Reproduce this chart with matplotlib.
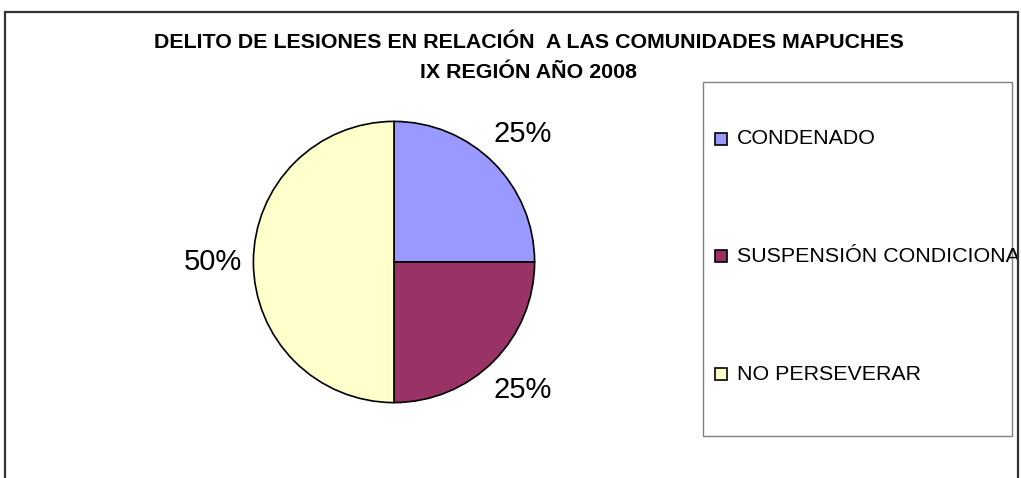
import matplotlib.pyplot as plt
from matplotlib.patches import Rectangle
from matplotlib.transforms import Bbox

# data
categorias = ["CONDENADO", "SUSPENSIÓN CONDICIONAL", "NO PERSEVERAR"]
valores = [25, 25, 50]
colores = ["#9999FF", "#993366", "#FFFFCC"]
titulo = ["DELITO DE LESIONES EN RELACIÓN  A LAS COMUNIDADES MAPUCHES",
          "IX REGIÓN AÑO 2008"]

W, H = 1021, 478
plt.rcParams['font.family'] = ['Liberation Sans', 'DejaVu Sans']

fig = plt.figure(figsize=(W / 100, H / 100), dpi=100)

def px(x0, y0, x1, y1):
    # pixel box (top-left origin) -> figure fraction
    return [x0 / W, 1 - y1 / H, (x1 - x0) / W, (y1 - y0) / H]

# outer chart border (bottom edge falls outside the image)
fig.patches.append(Rectangle((5 / W, -0.05), 1013 / W, 1 - 12 / H + 0.05,
                             transform=fig.transFigure, fill=False,
                             edgecolor="#333333", linewidth=1.6))

for linea, y in zip(titulo, [42, 72]):
    fig.text(529 / W, 1 - y / H, linea, ha="center", va="center",
             fontsize=15.4, fontweight="bold")

ax = fig.add_axes(px(252, 120, 536, 404))
wedges, _, autotexts = ax.pie(valores, colors=colores, startangle=90,
                              counterclock=False, radius=1,
                              autopct="%1.0f%%", pctdistance=1.29,
                              wedgeprops=dict(edgecolor="black", linewidth=1.2))
for t in autotexts:
    t.set_fontsize(21)
ax.set_xlim(-1.01, 1.01)
ax.set_ylim(-1.01, 1.01)
ax.set_aspect("equal")
ax.axis("off")

# legend box
fig.patches.append(Rectangle((703 / W, 1 - 436 / H), 309 / W, 354 / H,
                             transform=fig.transFigure, fill=False,
                             edgecolor="#808080", linewidth=1.0))
# label text runs past the box and is cut at the outer border, as in the original
clip = Bbox.from_extents(0, 0, 1017, H)
ys = [139, 256, 374]
for lab, col, y in zip(categorias, colores, ys):
    fig.patches.append(Rectangle((715 / W, 1 - (y + 6) / H), 12 / W, 12 / H,
                                 transform=fig.transFigure, facecolor=col,
                                 edgecolor="black", linewidth=1.2))
    t = fig.text(737 / W, 1 - y / H, lab, ha="left", va="center", fontsize=15.4)
    t.set_clip_box(clip)
    t.set_clip_on(True)

fig.savefig("out.png", dpi=100)
